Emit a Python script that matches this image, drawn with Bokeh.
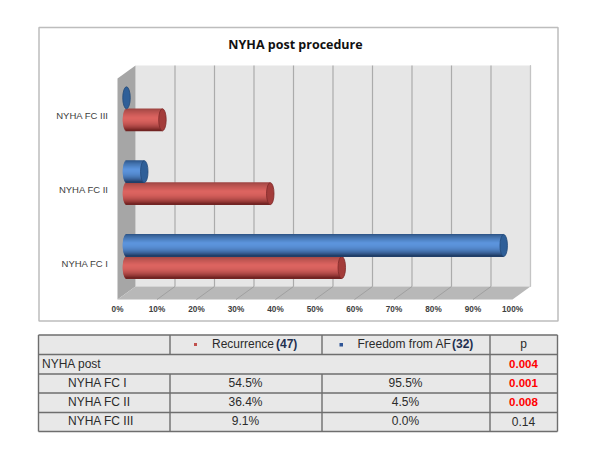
from bokeh.plotting import figure
from bokeh.models import Range1d
from bokeh.embed import file_html
from bokeh.resources import INLINE
from bokeh.core.properties import value
import math

categories = ["NYHA FC I", "NYHA FC II", "NYHA FC III"]
recurrence = [54.5, 36.4, 9.1]
freedom = [95.5, 4.5, 0.0]
ticks = [0, 10, 20, 30, 40, 50, 60, 70, 80, 90, 100]
tick_labels = ["0%", "10%", "20%", "30%", "40%", "50%", "60%", "70%", "80%", "90%", "100%"]
title = "NYHA post procedure"
p_overall = "0.004"
p_values = ["0.001", "0.008", "0.14"]
p_significant = [True, True, False]

FX0, PCT = 117.0, 3.95       # screen x of 0% on front of floor, px per percent
CY0, CSTEP = 256.0, 73.85    # screen y of category 0 centre, px per category
L, T, R, B = 0, 0, 592, 445
DX, DY = 18, 13              # 3D depth
BAR = 22.0
CAP = 3.75
ZERO = 9 / PCT               # bars float this far in from the front

p = figure(width=R - L, height=B - T, x_range=Range1d(L, R), y_range=Range1d(B, T),
           toolbar_location=None, output_backend="svg", min_border=0,
           outline_line_color=None, background_fill_color="white", border_fill_color="white")
p.axis.visible = False
p.grid.visible = False
p.extra_x_ranges = {"pct": Range1d((L - FX0) / PCT, (R - FX0) / PCT)}
p.extra_y_ranges = {"cat": Range1d((CY0 - B) / CSTEP, (CY0 - T) / CSTEP)}

FONT = value("Liberation Sans")

# chart frame
p.quad(left=[38.5], right=[557.5], top=[27], bottom=[320.5], fill_color="white",
       line_color="#bdbdbd", line_width=1.5)
p.text(x=[295], y=[43.8], text=[title], text_font=value("Open Sans"), text_font_style="bold",
       text_font_size="12.5px", text_align="center", text_baseline="middle", text_color="#111111")

# 3D walls
yb_top, yb_bot = 65, 286
yf_top, yf_bot = yb_top + DY, yb_bot + DY
xf0, xf1 = FX0, FX0 + 100 * PCT
p.patch([xf0 + DX, xf1 + DX, xf1 + DX, xf0 + DX], [yb_top, yb_top, yb_bot, yb_bot],
        fill_color="#e6e6e6", line_color=None)
p.patch([xf0, xf0 + DX, xf0 + DX, xf0], [yf_top, yb_top, yb_bot, yf_bot],
        fill_color="#a6a6a6", line_color=None)
p.patch([xf0, xf0 + DX, xf1 + DX, xf1], [yf_bot, yb_bot, yb_bot, yf_bot],
        fill_color="#b8b8b8", line_color=None)
for t in ticks[1:]:
    p.line([t + DX / PCT, t + DX / PCT], [yb_top, yb_bot], x_range_name="pct",
           line_color="#ababab", line_width=1.2)
for t in ticks[1:-1]:
    p.line([t, t + DX / PCT], [yf_bot, yb_bot], x_range_name="pct",
           line_color="#a0a0a0", line_width=1)
p.line([ticks[-1] + DX / PCT, ticks[-1] + DX / PCT], [yb_top, yb_bot], x_range_name="pct",
       line_color="#c4c4c4", line_width=1)

p.text(x=ticks, y=[308.5] * len(ticks), text=tick_labels, x_range_name="pct", text_font=FONT,
       text_font_style="bold", text_font_size="8.2px", text_align="center",
       text_baseline="middle", text_color="#404040")
p.text(x=[108] * 3, y=[i - 6.5 / CSTEP for i in range(3)], text=categories, y_range_name="cat",
       text_font=FONT, text_font_size="9.5px", text_align="right", text_baseline="middle",
       text_color="#404040")


def lerp(a, b, t):
    return "#%02x%02x%02x" % tuple(int(round(a[i] + (b[i] - a[i]) * t)) for i in range(3))


def shade(t, dark_top, light, dark_bot):
    # t 0..1 from top to bottom of the cylinder
    if t < 0.4:
        return lerp(dark_top, light, (t / 0.4) ** 0.7)
    return lerp(light, dark_bot, ((t - 0.4) / 0.6) ** 2.2)


def cylinder(cat, v, above, dark_top, light, dark_bot, cap, edge):
    h = BAR / CSTEP
    yc = cat + (h / 2 if above else -h / 2)
    x0 = ZERO
    a = CAP / PCT
    n = 22
    if v > 0:
        ys, lefts, rights, cols = [], [], [], []
        for k in range(n):
            t = (k + 0.5) / n
            u = 2 * t - 1
            ys.append(yc + h / 2 - t * h)
            lefts.append(x0 - a * math.sqrt(max(0, 1 - u * u)))
            rights.append(x0 + v)
            cols.append(shade(t, dark_top, light, dark_bot))
        p.hbar(y=ys, left=lefts, right=rights, height=h / n * 1.8, fill_color=cols, line_color=None,
               fill_alpha=1.0, x_range_name="pct", y_range_name="cat")
    p.ellipse(x=[x0 + v], y=[yc], width=[2 * a], height=[h], fill_color=cap, line_color=edge,
              line_width=0.8, x_range_name="pct", y_range_name="cat")


RED = ((150, 65, 62), (220, 100, 96), (105, 30, 30), "#a33c3a", "#7d2a2a")
BLUE = ((40, 78, 125), (92, 148, 220), (28, 55, 95), "#2f5f98", "#234a78")
for i in range(3):
    cylinder(i, recurrence[i], False, *RED)
    cylinder(i, freedom[i], True, *BLUE)

# table
xs = [38, 169.5, 321.5, 489.5, 557]
ys = [334.5, 354, 373.5, 392.5, 412, 431]
GRID = "#6e6e6e"
p.quad(left=[xs[0]], right=[xs[-1]], top=[ys[0]], bottom=[ys[-1]], fill_color="#e8e8e8", line_color=None)
for y in ys:
    p.line([xs[0], xs[-1]], [y, y], line_color=GRID, line_width=1.4)
for x in (xs[0], xs[3], xs[4]):
    p.line([x, x], [ys[0], ys[-1]], line_color=GRID, line_width=1.4)
for x in (xs[1], xs[2]):
    p.line([x, x], [ys[0], ys[1]], line_color=GRID, line_width=1.4)
    p.line([x, x], [ys[2], ys[-1]], line_color=GRID, line_width=1.4)

TC = "#2b2b2b"
def txt(x, y, s, color=TC, bold=False, align="center", size="12px"):
    p.text(x=[x], y=[y - 0.7], text=[s], text_font=FONT, text_font_size=size, text_align=align,
           text_baseline="middle", text_color=color, text_font_style="bold" if bold else "normal")


hy = (ys[0] + ys[1]) / 2
p.quad(left=[193.5], right=[196.5], top=[342.5], bottom=[345.5], fill_color="#c0504d", line_color=None)
txt(211.5, hy, "Recurrence", align="left")
txt(275.5, hy, "(47)", color="#1f3050", bold=True, align="left")
p.quad(left=[339], right=[342.5], top=[342.5], bottom=[346], fill_color="#2f5597", line_color=None)
txt(357, hy, "Freedom from AF", align="left")
txt(451.5, hy, "(32)", color="#1f3050", bold=True, align="left")
txt(523, hy, "p")
txt(41.5, (ys[1] + ys[2]) / 2, "NYHA post", align="left")
txt(523, (ys[1] + ys[2]) / 2, p_overall, color="#ff0000", bold=True, size="11.5px")
for i in range(3):
    yy = (ys[i + 2] + ys[i + 3]) / 2
    txt(67.5, yy, categories[i], align="left")
    txt(245, yy, f"{recurrence[i]:.1f}%")
    txt(405, yy, f"{freedom[i]:.1f}%")
    txt(523, yy, p_values[i], color="#ff0000" if p_significant[i] else TC, bold=p_significant[i],
        size="11.5px" if p_significant[i] else "12px")

open("out.html", "w").write(file_html(p, INLINE))
